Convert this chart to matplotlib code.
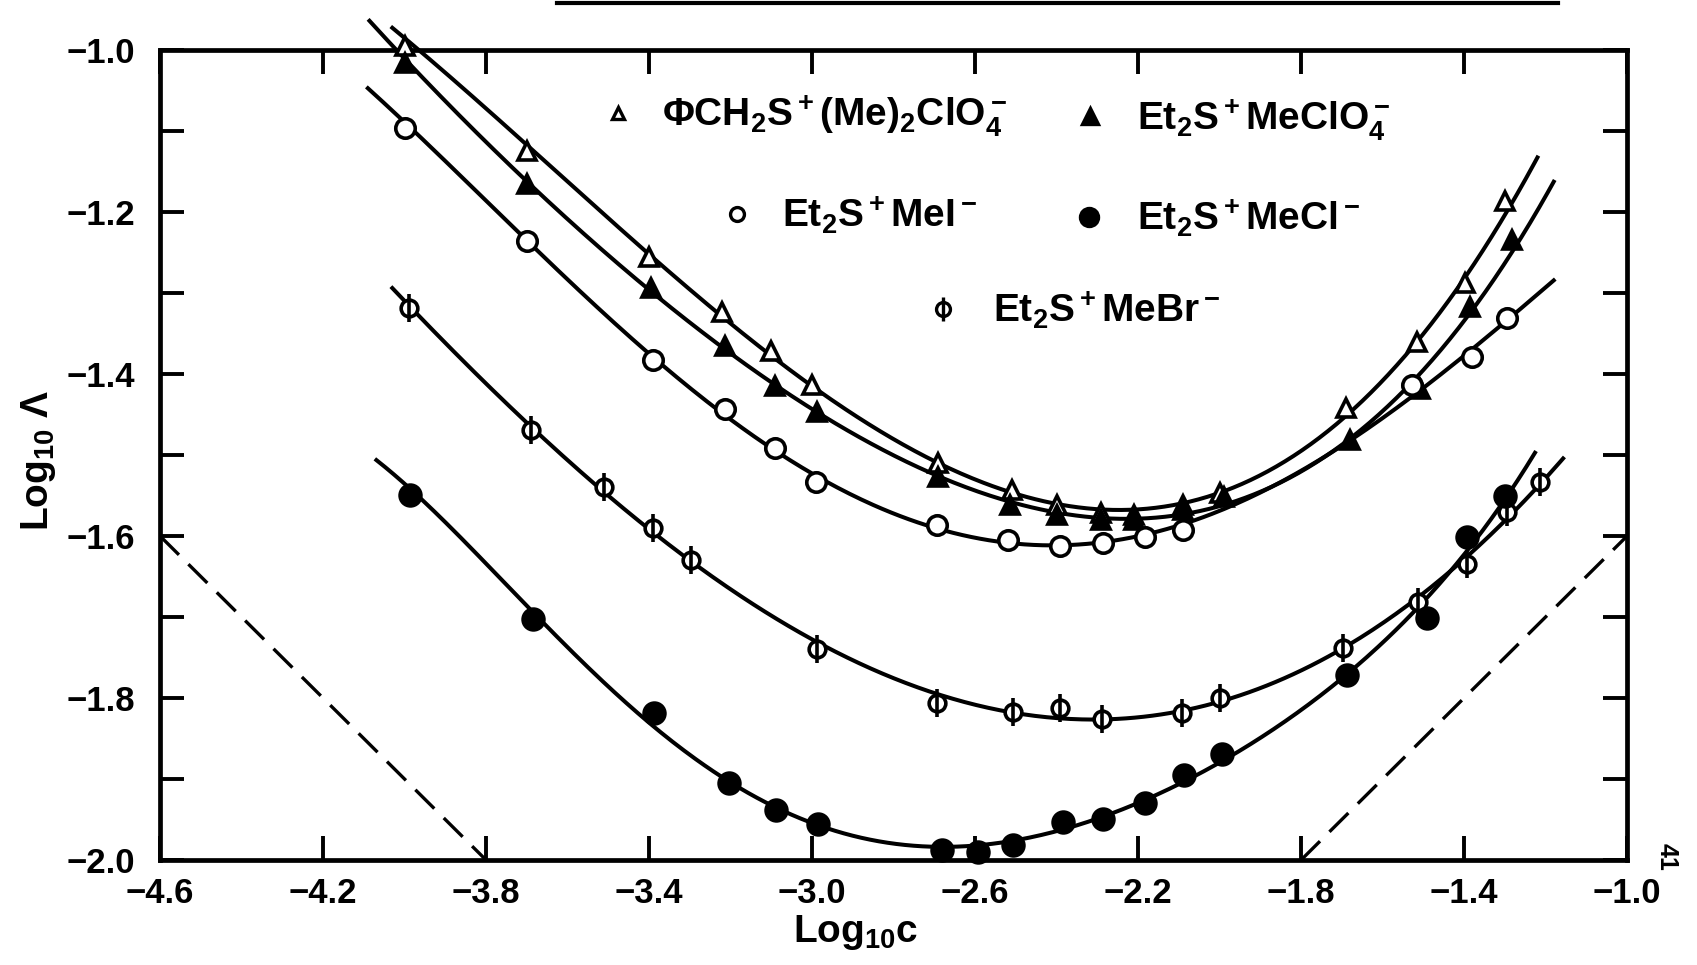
import numpy as np
import matplotlib
matplotlib.use("Agg")
import matplotlib.pyplot as plt
from matplotlib.lines import Line2D

plt.rcParams['font.family'] = ['Liberation Sans', 'DejaVu Sans']
plt.rcParams['font.weight'] = 'bold'
plt.rcParams['mathtext.fontset'] = 'custom'
plt.rcParams['mathtext.rm'] = 'Liberation Sans:bold'
plt.rcParams['mathtext.it'] = 'Liberation Sans:bold'
plt.rcParams['mathtext.bf'] = 'Liberation Sans:bold'
plt.rcParams['mathtext.sf'] = 'Liberation Sans:bold'

# --- data (log10 c, log10 Lambda) ---
# PhiCH2S+(Me)2ClO4-  (open triangles)
tri_open_x = [-4.00, -3.70, -3.40, -3.22, -3.10, -3.00, -2.69, -2.51, -2.40, -2.29,
              -2.21, -2.09, -2.00, -1.69, -1.515, -1.397, -1.30]
tri_open_y = [-0.995, -1.125, -1.256, -1.323, -1.372, -1.413, -1.510, -1.543, -1.562, -1.572,
              -1.574, -1.562, -1.547, -1.442, -1.360, -1.288, -1.187]
tri_open_ends = [(-4.03, -0.96), (-1.22, -1.144)]

# Et2S+MeClO4-  (filled triangles)
tri_fill_x = [-4.00, -3.70, -3.394, -3.213, -3.09, -2.987, -2.69, -2.514, -2.40, -2.29,
              -2.21, -2.09, -1.99, -1.68, -1.508, -1.385, -1.282]
tri_fill_y = [-1.016, -1.166, -1.294, -1.366, -1.415, -1.447, -1.527, -1.562, -1.574, -1.580,
              -1.580, -1.568, -1.552, -1.481, -1.418, -1.317, -1.235]
tri_fill_ends = [(-4.086, -0.959), (-1.18, -1.171)]

# Et2S+MeI-  (open circles)
circ_open_x = [-4.00, -3.70, -3.391, -3.213, -3.09, -2.99, -2.694, -2.518, -2.391, -2.286,
               -2.182, -2.089, -1.528, -1.38, -1.295]
circ_open_y = [-1.096, -1.236, -1.383, -1.443, -1.491, -1.533, -1.587, -1.605, -1.612, -1.609,
               -1.601, -1.592, -1.414, -1.379, -1.331]
circ_open_ends = [(-4.09, -1.041), (-1.18, -1.286)]

# Et2S+MeBr-  (phi symbols)
phi_x = [-3.99, -3.69, -3.51, -3.391, -3.298, -2.987, -2.694, -2.506, -2.391, -2.289,
         -2.092, -1.999, -1.696, -1.513, -1.393, -1.295, -1.213]
phi_y = [-1.318, -1.469, -1.539, -1.590, -1.630, -1.740, -1.806, -1.817, -1.812, -1.826,
         -1.818, -1.800, -1.738, -1.682, -1.634, -1.570, -1.533]
phi_ends = [(-4.03, -1.292), (-1.157, -1.506)]

# Et2S+MeCl-  (filled circles)
circ_fill_x = [-3.987, -3.685, -3.387, -3.203, -3.088, -2.986, -2.682, -2.592, -2.506, -2.385,
               -2.286, -2.182, -2.087, -1.994, -1.687, -1.491, -1.393, -1.299]
circ_fill_y = [-1.549, -1.703, -1.818, -1.905, -1.938, -1.956, -1.988, -1.990, -1.981, -1.953,
               -1.949, -1.930, -1.895, -1.869, -1.771, -1.701, -1.601, -1.551]
circ_fill_ends = [(-4.069, -1.499), (-1.226, -1.50)]

# limiting-law dashed lines
dash_left_x = [-4.6, -3.8]
dash_left_y = [-1.6, -2.0]
dash_right_x = [-1.8, -1.0]
dash_right_y = [-2.0, -1.6]

legend_labels = [r'ΦCH$_2$S$^+$(Me)$_2$ClO$_4^-$', r'Et$_2$S$^+$MeClO$_4^-$',
                 r'Et$_2$S$^+$MeI$^-$', r'Et$_2$S$^+$MeCl$^-$', r'Et$_2$S$^+$MeBr$^-$']
x_ticks = [-4.6, -4.2, -3.8, -3.4, -3.0, -2.6, -2.2, -1.8, -1.4, -1.0]
y_ticks = [-2.0, -1.9, -1.8, -1.7, -1.6, -1.5, -1.4, -1.3, -1.2, -1.1, -1.0]


def smooth_curve(xs, ys, ends, deg=4):
    # smooth fitted curve through the points, drawn between the traced line ends
    fx = [ends[0][0]] + list(xs) + [ends[1][0]]
    fy = [ends[0][1]] + list(ys) + [ends[1][1]]
    coef = np.polyfit(fx, fy, deg)
    xx = np.linspace(ends[0][0], ends[1][0], 400)
    return xx, np.polyval(coef, xx)


fig = plt.figure(figsize=(16.97, 9.65), dpi=100)
ax = fig.add_axes([0.0943, 0.1088, 0.8645, 0.8394])

series = [
    (tri_open_x, tri_open_y, tri_open_ends, 4, dict(marker='^', mfc='white', ms=13)),
    (tri_fill_x, tri_fill_y, tri_fill_ends, 4, dict(marker='^', mfc='black', ms=13)),
    (circ_open_x, circ_open_y, circ_open_ends, 4, dict(marker='o', mfc='white', ms=14)),
    (phi_x, phi_y, phi_ends, 4, dict(marker='o', mfc='white', ms=12)),
    (circ_fill_x, circ_fill_y, circ_fill_ends, 5, dict(marker='o', mfc='black', ms=15)),
]

for xs, ys, ends, deg, mk in series:
    xx, yy = smooth_curve(xs, ys, ends, deg)
    ax.plot(xx, yy, color='black', lw=2.9, clip_on=False, zorder=2)
    ax.plot(xs, ys, ls='none', mec='black', mew=2.6, clip_on=False, zorder=3, **mk)

# vertical bar of the phi symbols
ax.plot(phi_x, phi_y, ls='none', marker='|', ms=20, mew=2.6, color='black', zorder=4)

ax.plot(dash_left_x, dash_left_y, color='black', lw=2.4, dashes=(8, 4), zorder=2)
ax.plot(dash_right_x, dash_right_y, color='black', lw=2.4, dashes=(8, 4), zorder=2)

# legend drawn by hand in the original's layout
legend_pos = [(0.312, 0.922, 0.342), (0.634, 0.918, 0.666), (0.393, 0.797, 0.424),
              (0.633, 0.794, 0.666), (0.534, 0.680, 0.568)]
legend_marks = [dict(marker='^', mfc='white', ms=9), dict(marker='^', mfc='black', ms=11),
                dict(marker='o', mfc='white', ms=10), dict(marker='o', mfc='black', ms=13),
                dict(marker='o', mfc='white', ms=10)]
for (mx, my, tx), mk, lab in zip(legend_pos, legend_marks, legend_labels):
    ax.plot([mx], [my], transform=ax.transAxes, ls='none', mec='black', mew=2.4, **mk)
    ax.text(tx, my - 0.017, lab, transform=ax.transAxes, fontsize=28,
            ha='left', va='baseline')
ax.plot([legend_pos[4][0]], [legend_pos[4][1]], transform=ax.transAxes, ls='none',
        marker='|', ms=17, mew=2.4, color='black')

ax.set_xlim(-4.6, -1.0)
ax.set_ylim(-2.0, -1.0)
ax.set_xticks(x_ticks)
ax.set_xticklabels([f'{t:.1f}'.replace('-', '\u2212') for t in x_ticks])
ax.set_yticks(y_ticks)
ax.set_yticklabels([f'{t:.1f}'.replace('-', '\u2212') if i % 2 == 0 else ''
                    for i, t in enumerate(y_ticks)])
ax.tick_params(direction='in', length=17, width=2.8, top=True, right=True,
               labelsize=25)
ax.tick_params(axis='x', pad=12)
ax.tick_params(axis='y', pad=18)
for sp in ax.spines.values():
    sp.set_linewidth(3.4)

ax.text(0.474, -0.066, r'Log$_{10}$c', transform=ax.transAxes, fontsize=28,
        ha='center', va='top')
ax.text(-0.083, 0.494, r'Log$_{10}$ Λ', transform=ax.transAxes, fontsize=28,
        ha='center', va='center', rotation=90)

# scan artefacts: rule at the top edge and rotated page number
fig.add_artist(Line2D([557 / 1697, 1558 / 1697], [0.997, 0.997], lw=3, color='black'))
fig.text(0.982, 0.112, '41', rotation=-90, fontsize=18, ha='center', va='center')

fig.savefig('out.png', dpi=100)
